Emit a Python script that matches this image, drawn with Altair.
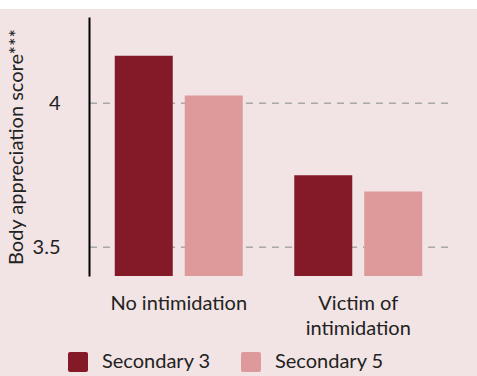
import altair as alt
import pandas as pd

# ---- data ----
groups = ["No intimidation", "No intimidation", "Victim of intimidation", "Victim of intimidation"]
grades = ["Secondary 3", "Secondary 5", "Secondary 3", "Secondary 5"]
scores = [4.165, 4.027, 3.75, 3.694]
grid_values = [3.5, 4.0]
y_domain = [3.4, 4.3]
series_names = ["Secondary 3", "Secondary 5"]
series_colors = ["#841A28", "#DE9A9A"]

BG = "#F2E4E4"
TEXT = "#222222"
FONT = "Lato"
FS = 20

df = pd.DataFrame({"group": groups, "grade": grades, "score": scores})
grid_df = pd.DataFrame({"score": grid_values})
bg_df = pd.DataFrame({"bg": [0]})

W, H = 359, 259
PAD = {"left": 89, "top": 17, "right": 29, "bottom": 100}

yscale = alt.Scale(domain=y_domain, nice=False, zero=False)
yaxis = alt.Axis(
    title="Body appreciation score***", values=grid_values, grid=False, format="~g",
    ticks=False, domain=True, domainColor="#000000", domainWidth=2,
    labelFontSize=FS, labelFont=FONT, labelColor=TEXT, labelPadding=29,
    titleFontSize=FS, titleFont=FONT, titleColor=TEXT, titleFontWeight="normal",
    titleAngle=270, titleBaseline="middle", titleAlign="center",
    titleX=-73, titleY=H / 2, zindex=1,
)

background = alt.Chart(bg_df).mark_rect(color=BG).encode(
    x=alt.value(-PAD["left"]), x2=alt.value(W + PAD["right"]),
    y=alt.value(-8), y2=alt.value(H + PAD["bottom"]),
)

grid = alt.Chart(grid_df).mark_rule(
    color="#A8A8A8", strokeWidth=1.5, strokeDash=[7, 6]
).encode(y=alt.Y("score:Q", scale=yscale, axis=yaxis))

bars = alt.Chart(df).mark_bar().encode(
    x=alt.X(
        "group:N",
        sort=None,
        scale=alt.Scale(paddingInner=0.287, paddingOuter=0.1435),
        axis=alt.Axis(
            title=None, domain=False, ticks=False, labelAngle=0,
            labelFontSize=FS, labelFont=FONT, labelColor=TEXT,
            labelPadding=17, labelLineHeight=25, zindex=1,
            labelExpr="datum.value == 'Victim of intimidation' ? ['Victim of', 'intimidation'] : datum.value",
        ),
    ),
    xOffset=alt.XOffset("grade:N", scale=alt.Scale(paddingInner=0.171, paddingOuter=0)),
    y=alt.Y("score:Q", scale=yscale, axis=yaxis),
    y2=alt.datum(y_domain[0]),
    color=alt.Color(
        "grade:N",
        scale=alt.Scale(domain=series_names, range=series_colors),
        legend=alt.Legend(
            title=None, orient="none", direction="horizontal",
            legendX=-21, legendY=335,
            symbolType="M-0.8,-1H0.8Q1,-1 1,-0.8V0.8Q1,1 0.8,1H-0.8Q-1,1 -1,0.8V-0.8Q-1,-1 -0.8,-1Z",
            symbolSize=400, symbolStrokeWidth=0, symbolOpacity=1,
            labelFontSize=FS, labelFont=FONT, labelColor=TEXT,
            labelOffset=14, columnPadding=30, zindex=1,
        ),
    ),
)

chart = alt.layer(background, grid, bars).properties(
    width=W, height=H,
    autosize=alt.AutoSizeParams(type="none"),
    padding=PAD,
    background="white",
).configure_view(stroke=None)

chart.save("out.html", embed_options={"renderer": "svg", "actions": False})
